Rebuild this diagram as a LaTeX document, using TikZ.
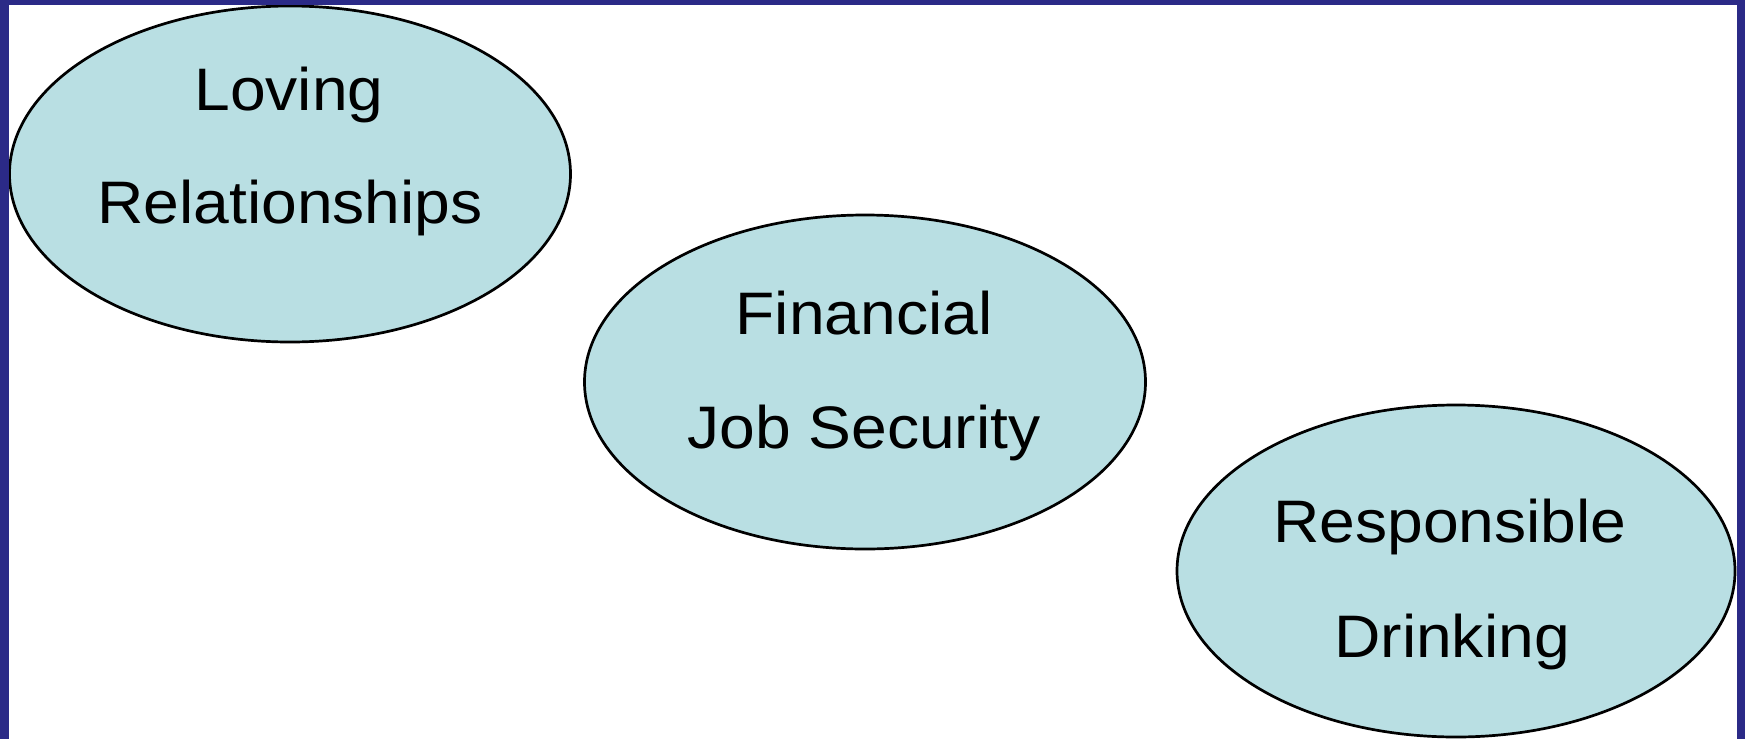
\documentclass[tikz,border=0pt]{standalone}
\usepackage{fontspec}
\setmainfont{Liberation Sans}[FakeStretch=1.07]
\usetikzlibrary{shapes.geometric}
\definecolor{framecol}{RGB}{43,42,135}
\definecolor{bubble}{RGB}{185,223,227}
\tikzset{
  bubblenode/.style={ellipse, draw=black, fill=bubble, line width=2.7pt, inner sep=0pt},
  label text/.style={anchor=base, inner sep=0pt, font=\fontsize{60}{72}\selectfont, text=black},
  framebar/.style={fill=framecol, draw=none}
}
\begin{document}
\begin{tikzpicture}[x=1pt, y=-1pt]
\useasboundingbox (0,0) rectangle (1745,739);
\fill[white] (0,0) rectangle (1745,739);
% ellipses
\node[bubblenode, minimum width=561pt, minimum height=336pt] (love) at (290,174) {};
\node[bubblenode, minimum width=561pt, minimum height=334pt] (fin) at (865,382) {};
\node[bubblenode, minimum width=558pt, minimum height=332pt] (drink) at (1456,571) {};
% texts
\node[label text] (loveA) at (289,110) {Loving};
\node[label text] (loveB) at (290,223) {Relationships};
\node[label text] (finA) at (864,334) {Financial};
\node[label text] (finB) at (864,448) {Job Security};
\node[label text] (drinkA) at (1450,542) {Responsible};
\node[label text] (drinkB) at (1452,657) {Drinking};
% frame
\fill[framebar] (0,0) rectangle (1745,5);
\fill[framebar] (0,0) rectangle (9,739);
\fill[framebar] (1737,0) rectangle (1745,739);
\end{tikzpicture}
\end{document}
